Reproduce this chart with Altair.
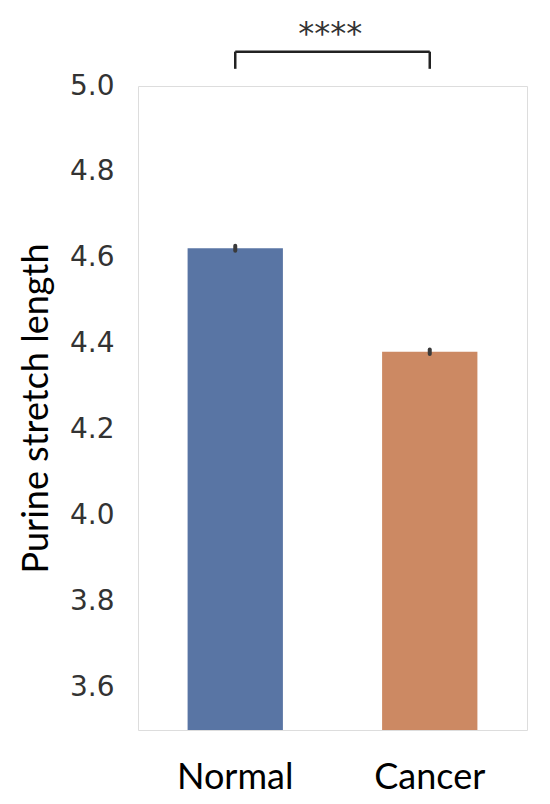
import altair as alt
import pandas as pd

# Data
categories = ["Normal", "Cancer"]
means = [4.622, 4.381]
ci_low = [4.616, 4.376]
ci_high = [4.628, 4.386]
bar_colors = ["#5975a4", "#cc8963"]

# significance annotation (data units above the plotted range)
sig_text = "****"
bracket_top = 5.08
bracket_bottom = 5.04
sig_text_y = 5.098

df = pd.DataFrame({"group": categories, "mean": means, "lo": ci_low, "hi": ci_high})
ann = pd.DataFrame({"a": [categories[0]], "b": [categories[1]], "top": [bracket_top],
                    "bot": [bracket_bottom], "ty": [sig_text_y], "label": [sig_text]})
ticks = pd.DataFrame({"g": categories, "top": [bracket_top] * 2, "bot": [bracket_bottom] * 2})

x_scale = alt.Scale(domain=categories, paddingInner=0, paddingOuter=0)
y_scale = alt.Scale(domain=[3.5, 5.0], zero=False, nice=False)

bars = alt.Chart(df).mark_bar(width=alt.RelativeBandSize(0.49), clip=True).encode(
    x=alt.X("group:N", scale=x_scale, sort=categories,
            axis=alt.Axis(title=None, labelAngle=0, labelFont="Lato", labelFontSize=36,
                          labelColor="#000000", labelPadding=30, ticks=False, domain=False)),
    y=alt.Y("mean:Q", scale=y_scale,
            axis=alt.Axis(title="Purine stretch length", values=[3.6, 3.8, 4.0, 4.2, 4.4, 4.6, 4.8, 5.0],
                          format=".1f", labelFont="DejaVu Sans", labelFontSize=28,
                          labelColor="#333333", labelPadding=24, ticks=False, domain=False,
                          grid=False, titleFont="Lato", titleFontSize=36, titleFontWeight="normal",
                          titleColor="#000000", titlePadding=14)),
    y2=alt.datum(3.5),
    color=alt.Color("group:N", scale=alt.Scale(domain=categories, range=bar_colors), legend=None),
)

err = alt.Chart(df).mark_rule(color="#3a3a3a", strokeWidth=4, strokeCap="round").encode(
    x=alt.X("group:N", scale=x_scale, sort=categories),
    y=alt.Y("lo:Q", scale=y_scale),
    y2="hi:Q",
)

bracket = alt.Chart(ann).mark_rule(color="#222222", strokeWidth=2.5, clip=False).encode(
    x=alt.X("a:N", scale=x_scale),
    x2="b:N",
    y=alt.Y("top:Q", scale=y_scale),
)

bticks = alt.Chart(ticks).mark_rule(color="#222222", strokeWidth=2.5, clip=False).encode(
    x=alt.X("g:N", scale=x_scale, sort=categories),
    y=alt.Y("bot:Q", scale=y_scale),
    y2="top:Q",
)

stars = alt.Chart(ann).mark_text(font="DejaVu Sans", fontSize=32, color="#333333",
                                  baseline="alphabetic", align="center", dx=95, clip=False).encode(
    x=alt.X("a:N", scale=x_scale),
    y=alt.Y("ty:Q", scale=y_scale),
    text="label:N",
)

chart = alt.layer(bars, err, bracket, bticks, stars).properties(
    width=389, height=644,
    autosize=alt.AutoSizeParams(type="none"),
    padding={"left": 130, "top": 78, "right": 15, "bottom": 74},
).configure_view(stroke="#9c9c9c", strokeWidth=2).configure(background="white")

chart.save("out.html", embed_options={"renderer": "svg", "actions": False})
